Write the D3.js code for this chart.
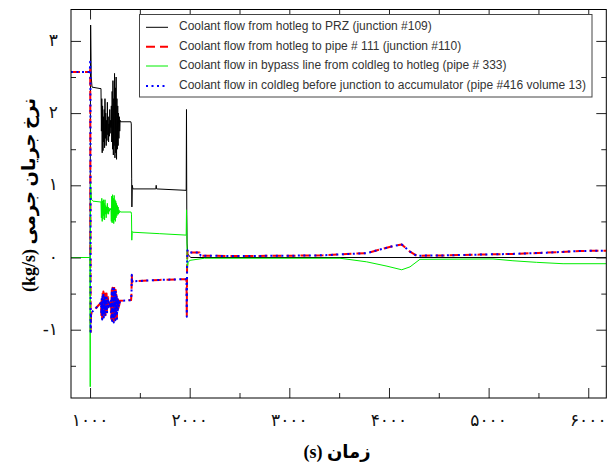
<!DOCTYPE html>
<html>
<head>
<meta charset="utf-8">
<script src="https://cdn.jsdelivr.net/npm/d3@7"></script>
<style>
  html, body { margin: 0; padding: 0; background: #fff; }
  svg { display: block; }
</style>
</head>
<body>
<svg id="chart" width="616" height="466"></svg>
<script>
// Mass flow rates (kg/s) versus time (s): [time, value] pairs
const flowJunction109 = [
  [809, 0], [998, 0], [1000, 0], [1006, 3.22], [1012, 2.5], [1020, 2.36], [1100, 2.34],
  [1110, 2.34], [1114, 1.75], [1118, 2.2], [1122, 1.45], [1126, 2.1], [1130, 1.48], [1134, 1.95],
  [1138, 1.6], [1142, 2.05], [1146, 1.52], [1150, 2.2], [1154, 1.65], [1158, 2.0], [1162, 1.55],
  [1166, 1.9], [1170, 1.62], [1174, 2.15], [1178, 1.7], [1182, 1.95], [1186, 1.6], [1190, 1.85],
  [1194, 1.68], [1198, 2.05], [1202, 1.72], [1206, 1.9], [1210, 1.8],
  [1214, 2.1], [1218, 1.6], [1222, 2.3], [1226, 1.5], [1230, 2.45], [1234, 1.42], [1238, 2.2],
  [1242, 1.55], [1246, 2.55], [1250, 1.38], [1254, 2.35], [1258, 1.45], [1262, 2.5], [1266, 1.36],
  [1270, 2.2], [1274, 1.5], [1278, 2.1], [1282, 1.55], [1286, 2.0], [1290, 1.65], [1294, 1.95],
  [1298, 1.75], [1302, 1.9], [1306, 1.88], [1410, 1.88], [1414, 1.85], [1418, 1.1], [1420, 0.7],
  [1424, 1.0], [1430, 0.95], [1660, 0.95], [1664, 1.0], [1668, 0.95], [1965, 0.93], [1968, 2.05],
  [1971, 0.6], [1974, 0.2], [1980, 0.05], [2010, 0.0], [6181, 0.0]
];

const flowJunction110 = [
  [809, 2.57], [998, 2.57], [1002, 2.6], [1006, -1.03], [1010, -0.8], [1016, -0.76], [1030, -0.74],
  [1060, -0.7], [1100, -0.64], [1110, -0.62],
  [1114, -0.8], [1118, -0.55], [1122, -0.84], [1126, -0.5], [1130, -0.78], [1134, -0.47], [1138, -0.82],
  [1142, -0.55], [1146, -0.75], [1150, -0.5], [1154, -0.8], [1158, -0.58], [1162, -0.72], [1166, -0.5],
  [1170, -0.76], [1174, -0.6], [1178, -0.7], [1182, -0.55], [1186, -0.68], [1190, -0.6], [1194, -0.66],
  [1198, -0.62], [1204, -0.66], [1210, -0.6],
  [1214, -0.85], [1218, -0.45], [1222, -0.87], [1226, -0.42], [1230, -0.82], [1234, -0.48], [1238, -0.88],
  [1242, -0.4], [1246, -0.8], [1250, -0.5], [1254, -0.86], [1258, -0.45], [1262, -0.78], [1266, -0.52],
  [1270, -0.84], [1274, -0.55], [1278, -0.75], [1282, -0.58], [1286, -0.7], [1290, -0.6], [1294, -0.66],
  [1300, -0.6], [1306, -0.6], [1412, -0.59], [1416, -0.5], [1419, -0.24], [1422, -0.34], [1430, -0.33],
  [1700, -0.31], [1968, -0.3], [1971, -0.8], [1974, -0.1], [1978, 0.1], [1985, 0.07], [2100, 0.07],
  [2110, 0.025], [2500, 0.02], [3000, 0.025], [3338, 0.03], [3576, 0.048], [3776, 0.06], [3910, 0.11],
  [4043, 0.16], [4128, 0.18], [4211, 0.08], [4278, 0.025], [4600, 0.03], [4913, 0.04], [5244, 0.05],
  [5582, 0.067], [5917, 0.09], [6181, 0.095]
];

const flowPipe333 = [
  [809, 0], [998, 0], [1002, -1.79], [1005, 1.04], [1010, 0.88], [1016, 0.8], [1030, 0.78], [1100, 0.77],
  [1110, 0.77],
  [1114, 0.55], [1118, 0.82], [1122, 0.5], [1126, 0.78], [1130, 0.53], [1134, 0.8], [1138, 0.58],
  [1142, 0.75], [1146, 0.52], [1150, 0.8], [1154, 0.6], [1158, 0.72], [1162, 0.55], [1166, 0.7],
  [1170, 0.6], [1174, 0.75], [1178, 0.62], [1182, 0.7], [1186, 0.6], [1190, 0.68], [1194, 0.64],
  [1200, 0.68], [1206, 0.66], [1210, 0.68],
  [1214, 0.5], [1218, 0.85], [1222, 0.48], [1226, 0.87], [1230, 0.5], [1234, 0.82], [1238, 0.47],
  [1242, 0.86], [1246, 0.52], [1250, 0.8], [1254, 0.5], [1258, 0.78], [1262, 0.55], [1266, 0.75],
  [1270, 0.58], [1274, 0.72], [1278, 0.6], [1282, 0.7], [1286, 0.6], [1290, 0.66], [1296, 0.62],
  [1302, 0.64], [1306, 0.63], [1412, 0.63], [1416, 0.6], [1419, 0.24], [1423, 0.36], [1430, 0.35],
  [1700, 0.33], [1965, 0.31], [1968, 0.66], [1972, 0.3], [1976, -0.15], [1985, -0.07], [2000, -0.04],
  [2150, -0.01], [3508, -0.01], [3776, -0.06], [3980, -0.12], [4128, -0.17], [4211, -0.13],
  [4311, -0.025], [5044, -0.02], [5244, -0.045], [5482, -0.067], [5747, -0.086], [6181, -0.086]
];

const flowPipe416 = [
  [809, 2.57], [998, 2.57], [1001, 2.71], [1004, 2.6], [1006, -1.03], [1010, -0.8], [1016, -0.76],
  [1030, -0.74], [1060, -0.7], [1100, -0.64], [1110, -0.62],
  [1114, -0.78], [1118, -0.56], [1122, -0.86], [1126, -0.52], [1130, -0.8], [1134, -0.49], [1138, -0.83],
  [1142, -0.56], [1146, -0.77], [1150, -0.52], [1154, -0.81], [1158, -0.57], [1162, -0.74], [1166, -0.52],
  [1170, -0.77], [1174, -0.6], [1178, -0.71], [1182, -0.56], [1186, -0.69], [1190, -0.61], [1194, -0.67],
  [1198, -0.62], [1204, -0.66], [1210, -0.6],
  [1214, -0.86], [1218, -0.46], [1222, -0.88], [1226, -0.43], [1230, -0.84], [1234, -0.47], [1238, -0.9],
  [1242, -0.42], [1246, -0.82], [1250, -0.49], [1254, -0.87], [1258, -0.46], [1262, -0.8], [1266, -0.51],
  [1270, -0.85], [1274, -0.56], [1278, -0.76], [1282, -0.58], [1286, -0.71], [1290, -0.61], [1294, -0.66],
  [1300, -0.6], [1306, -0.6], [1412, -0.59], [1416, -0.5], [1419, -0.24], [1422, -0.34], [1430, -0.33],
  [1700, -0.31], [1968, -0.3], [1971, -0.82], [1974, -0.1], [1978, 0.1], [1985, 0.07], [2100, 0.07],
  [2110, 0.025], [2500, 0.02], [3000, 0.025], [3338, 0.03], [3576, 0.048], [3776, 0.06], [3910, 0.11],
  [4043, 0.16], [4128, 0.18], [4211, 0.08], [4278, 0.025], [4600, 0.03], [4913, 0.04], [5244, 0.05],
  [5582, 0.067], [5917, 0.09], [6181, 0.095]
];

const legendLabels = [
  "Coolant flow from hotleg to PRZ (junction #109)",
  "Coolant flow from hotleg to pipe # 111 (junction #110)",
  "Coolant flow in bypass line from coldleg to hotleg (pipe # 333)",
  "Coolant flow in coldleg before junction to accumulator (pipe #416 volume 13)"
];

const xTickValues = [1000, 2000, 3000, 4000, 5000, 6000];
const xTickLabels = ["۱۰۰۰", "۲۰۰۰", "۳۰۰۰", "۴۰۰۰", "۵۰۰۰", "۶۰۰۰"];
const yTickValues = [-1, 0, 1, 2, 3];
const yTickLabels = ["-۱", "۰", "۱", "۲", "۳"];
const xMinorTicks = [1500, 2500, 3500, 4500, 5500];
const yMinorTicks = [-1.5, -0.5, 0.5, 1.5, 2.5];

const xTitle = "(s) زمان";
const yTitle = "(kg/s) نرخ جریان جرمی";

// Series styling
const seriesList = [
  { data: flowJunction109, color: "#000000", width: 1, dash: null },
  { data: flowJunction110, color: "#ff0000", width: 2, dash: "9,5" },
  { data: flowPipe333, color: "#00ee00", width: 1, dash: null },
  { data: flowPipe416, color: "#0000ff", width: 2, dash: "2,3.5" }
];

const svg = d3.select("#chart");
const plot = { left: 71, right: 606.3, top: 9.5, bottom: 398 };

const x = d3.scaleLinear().domain([809, 6181]).range([plot.left, plot.right]);
const y = d3.scaleLinear().domain([-1.946, 3.435]).range([plot.bottom, plot.top]);

svg.append("defs").append("clipPath").attr("id", "plotClip")
  .append("rect")
  .attr("x", plot.left).attr("y", plot.top)
  .attr("width", plot.right - plot.left).attr("height", plot.bottom - plot.top);

// Data lines
const line = d3.line().x(d => x(d[0])).y(d => y(d[1]));
const linesG = svg.append("g").attr("clip-path", "url(#plotClip)");
seriesList.forEach(s => {
  linesG.append("path")
    .datum(s.data)
    .attr("d", line)
    .attr("fill", "none")
    .attr("stroke", s.color)
    .attr("stroke-width", s.width)
    .attr("stroke-dasharray", s.dash)
    .attr("stroke-linejoin", "round");
});

// Axes with inward ticks on all four sides
const tickColor = "#222";

const xb = d3.axisBottom(x).tickValues(xTickValues).tickSize(-10).tickFormat("");
const xbm = d3.axisBottom(x).tickValues(xMinorTicks).tickSize(-5).tickFormat("");
const xt = d3.axisTop(x).tickValues(xTickValues).tickSize(-10).tickFormat("");
const xtm = d3.axisTop(x).tickValues(xMinorTicks).tickSize(-5).tickFormat("");
const yl = d3.axisLeft(y).tickValues(yTickValues).tickSize(-10).tickFormat("");
const ylm = d3.axisLeft(y).tickValues(yMinorTicks).tickSize(-5).tickFormat("");
const yr = d3.axisRight(y).tickValues(yTickValues).tickSize(-10).tickFormat("");
const yrm = d3.axisRight(y).tickValues(yMinorTicks).tickSize(-5).tickFormat("");

[[xb, `translate(0,${plot.bottom})`], [xbm, `translate(0,${plot.bottom})`],
 [xt, `translate(0,${plot.top})`], [xtm, `translate(0,${plot.top})`],
 [yl, `translate(${plot.left},0)`], [ylm, `translate(${plot.left},0)`],
 [yr, `translate(${plot.right},0)`], [yrm, `translate(${plot.right},0)`]].forEach(([ax, tr]) => {
  const g = svg.append("g").attr("transform", tr).call(ax);
  g.select(".domain").remove();
  g.selectAll(".tick line").attr("stroke", tickColor);
});

// Frame
svg.append("rect")
  .attr("x", plot.left).attr("y", plot.top)
  .attr("width", plot.right - plot.left).attr("height", plot.bottom - plot.top)
  .attr("fill", "none").attr("stroke", "#000").attr("stroke-width", 1);

// Tick labels (Persian digits)
const numFont = "'DejaVu Sans', sans-serif";
svg.append("g").selectAll("text").data(xTickValues).join("text")
  .attr("x", d => x(d))
  .attr("y", 421)
  .attr("text-anchor", "middle")
  .attr("dominant-baseline", "middle")
  .attr("font-family", numFont)
  .attr("font-size", 17)
  .attr("fill", "#111")
  .text((d, i) => xTickLabels[i]);

svg.append("g").selectAll("text").data(yTickValues).join("text")
  .attr("x", 58)
  .attr("y", d => y(d))
  .attr("text-anchor", "end")
  .attr("dominant-baseline", "middle")
  .attr("font-family", numFont)
  .attr("font-size", 17)
  .attr("fill", "#111")
  .text((d, i) => yTickLabels[i]);

// Axis titles
svg.append("text")
  .attr("x", 337).attr("y", 454)
  .attr("text-anchor", "middle")
  .attr("dominant-baseline", "middle")
  .attr("font-family", "'Liberation Serif', 'DejaVu Sans', serif")
  .attr("font-weight", "bold")
  .attr("font-size", 18)
  .attr("fill", "#000")
  .text(xTitle);

svg.append("text")
  .attr("transform", "translate(31,195) rotate(-90)")
  .attr("text-anchor", "middle")
  .attr("dominant-baseline", "middle")
  .attr("font-family", "'Liberation Serif', 'DejaVu Sans', serif")
  .attr("font-weight", "bold")
  .attr("font-size", 18)
  .attr("fill", "#000")
  .text(yTitle);

// Legend
const legend = svg.append("g");
legend.append("rect")
  .attr("x", 139.5).attr("y", 14.5)
  .attr("width", 452.5).attr("height", 82.5)
  .attr("fill", "#fff").attr("stroke", "#444").attr("stroke-width", 1);

const rowY = [27.3, 46.7, 66, 86];
seriesList.forEach((s, i) => {
  legend.append("line")
    .attr("x1", 146).attr("x2", 168)
    .attr("y1", rowY[i]).attr("y2", rowY[i])
    .attr("stroke", s.color)
    .attr("stroke-width", s.width)
    .attr("stroke-dasharray", s.dash);
  legend.append("text")
    .attr("x", 179).attr("y", rowY[i])
    .attr("dominant-baseline", "middle")
    .attr("font-family", "'Liberation Sans', Arial, sans-serif")
    .attr("font-size", 12)
    .attr("fill", "#333")
    .text(legendLabels[i]);
});
</script>
</body>
</html>
